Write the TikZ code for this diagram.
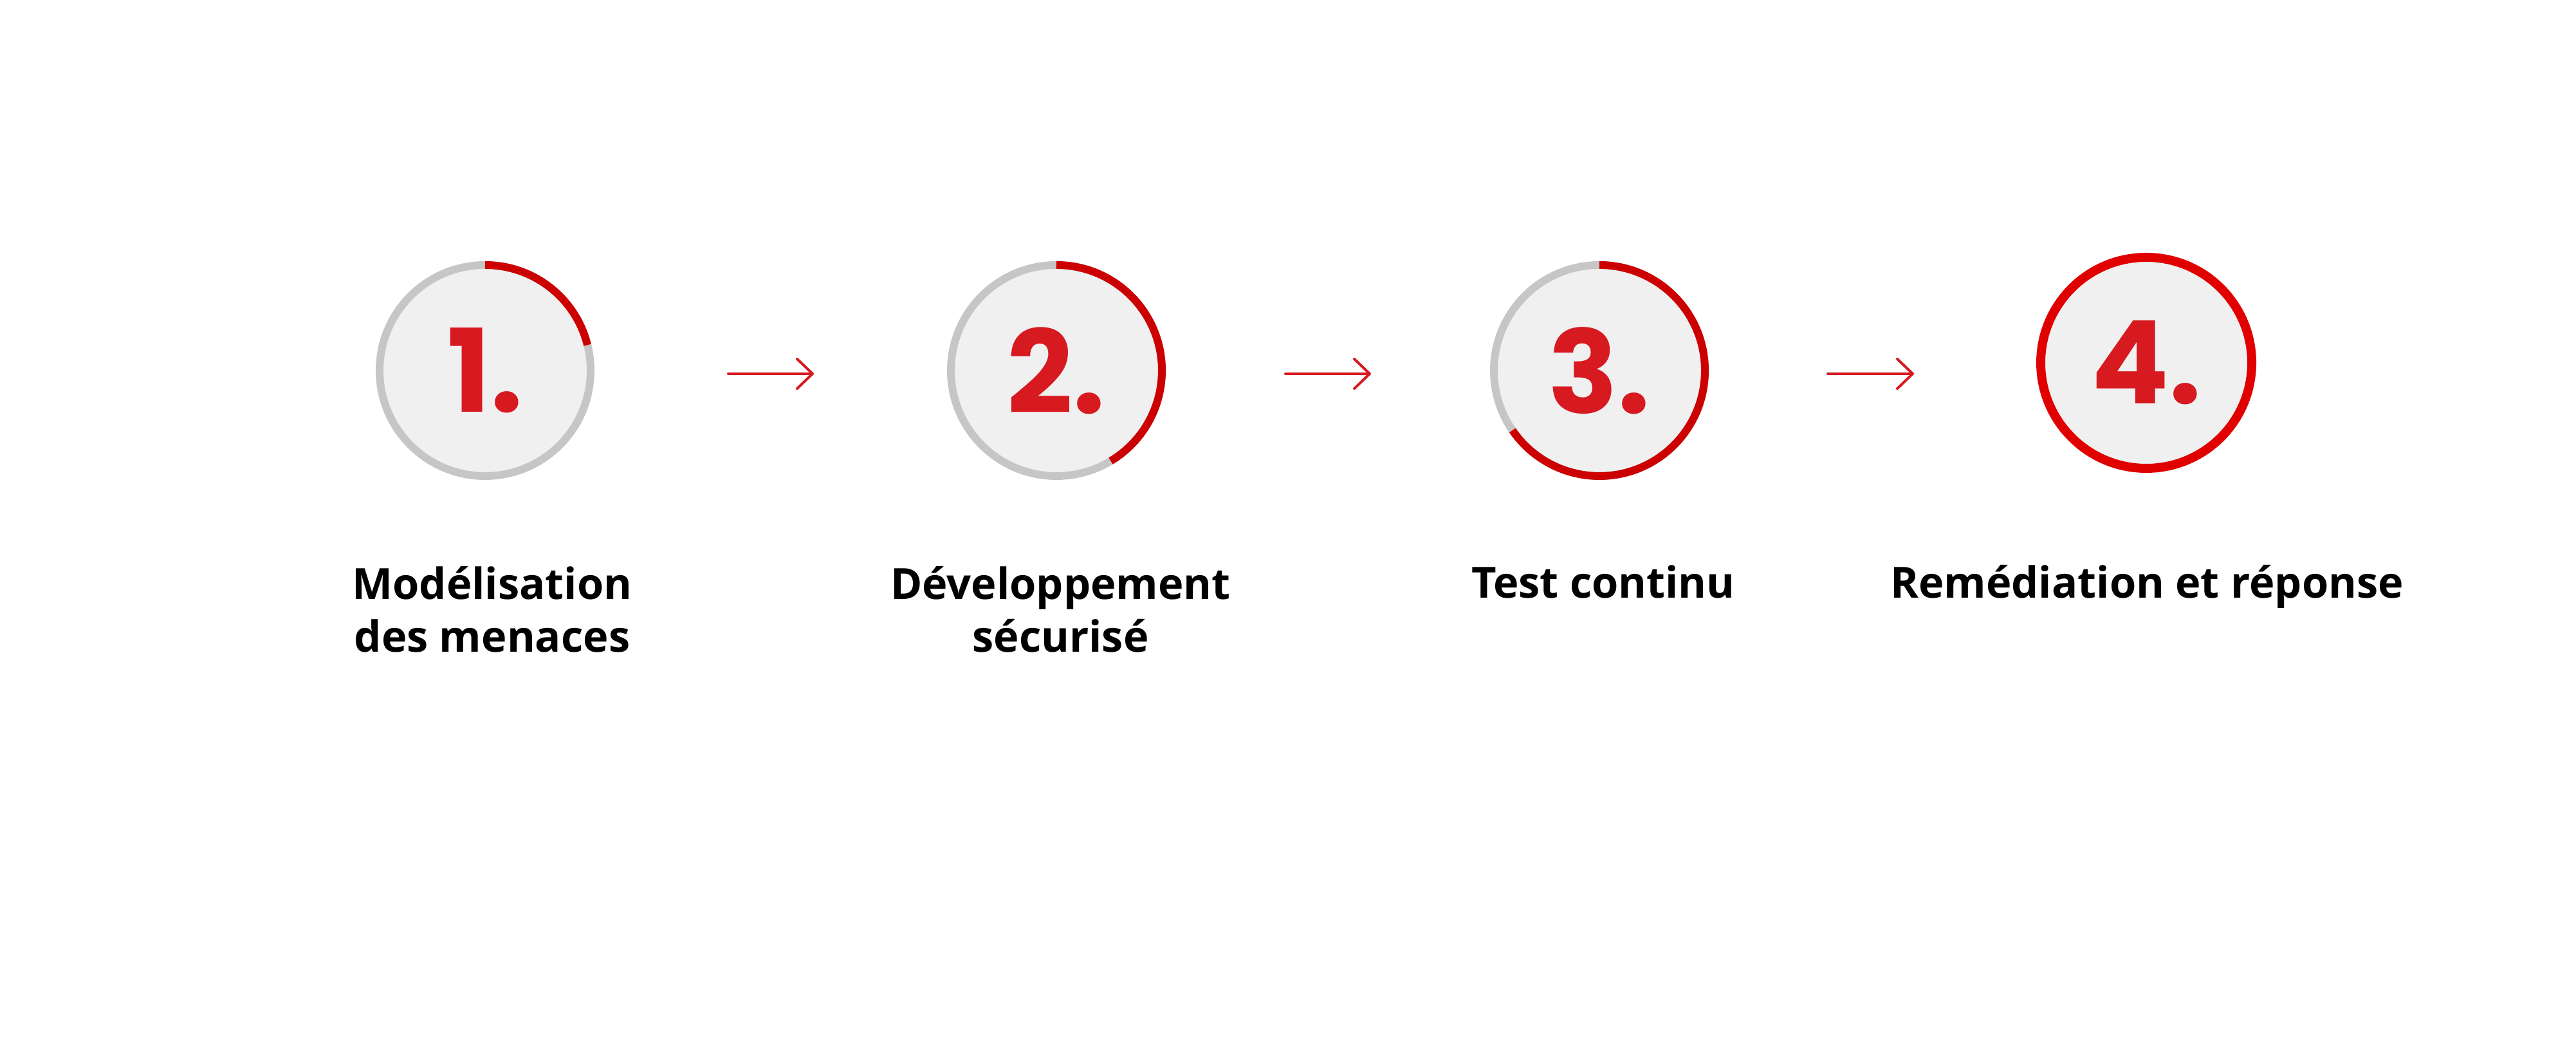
\documentclass[tikz,border=0pt]{standalone}
\usepackage{fontspec}
\setmainfont{Open Sans}
\newfontfamily\numfont{Poppins}
\usetikzlibrary{arrows.meta}

\definecolor{ringgray}{HTML}{C6C6C6}
\definecolor{ringfill}{HTML}{F0F0F0}
\definecolor{arcred}{HTML}{CC0000}
\definecolor{numred}{HTML}{D71920}
\definecolor{fullred}{HTML}{E00000}

\begin{document}
\begin{tikzpicture}[every text node part/.style={align=center},
  ring/.style={circle,minimum size=3.28cm,inner sep=0pt,draw=ringgray,line width=0.12cm,fill=ringfill,
    text=numred,font=\numfont\bfseries\fontsize{51pt}{51pt}\selectfont},
  progress/.style={arcred,line width=0.12cm},
  steplabel/.style={anchor=base,font=\bfseries\fontsize{19pt}{23.6pt}\selectfont},
  flow/.style={->,numred,line width=0.04cm,line cap=round},
  >={Straight Barb[length=0.24cm,width=0.46cm,round]}]

\useasboundingbox(0,0)rectangle(40.04,16.15);

\node[ring](c1)at(7.54,10.39){1.};
\draw[progress](c1.center)++(90:1.64)arc[start angle=90,end angle=14,radius=1.64];

\node[ring](c2)at(16.42,10.39){2.};
\draw[progress](c2.center)++(90:1.64)arc[start angle=90,end angle=-59,radius=1.64];

\node[ring](c3)at(24.86,10.39){3.};
\draw[progress](c3.center)++(90:1.64)arc[start angle=90,end angle=-145.5,radius=1.64];

\node[ring,draw=fullred,line width=0.14cm](c4)at(33.36,10.51){4.};

\draw[flow,shorten <=2.08cm,shorten >=2.07cm]([yshift=-0.05cm]c1.east)--([yshift=-0.05cm]c2.west);
\draw[flow,shorten <=1.86cm,shorten >=1.85cm]([yshift=-0.05cm]c2.east)--([yshift=-0.05cm]c3.west);
\draw[flow,shorten <=1.85cm,shorten >=1.90cm]([yshift=-0.05cm]c3.east)--([yshift=-0.05cm]c3.east-|c4.west);

% two-line labels sit on the baseline of their last line
\node[steplabel](t1)at(7.65,6.01){Modélisation\\des menaces};
\node[steplabel](t2)at(16.485,6.01){Développement\\sécurisé};
\node[steplabel](t3)at(24.92,6.85){Test continu};
\node[steplabel](t4)at(33.37,6.85){Remédiation et réponse};

\end{tikzpicture}
\end{document}
